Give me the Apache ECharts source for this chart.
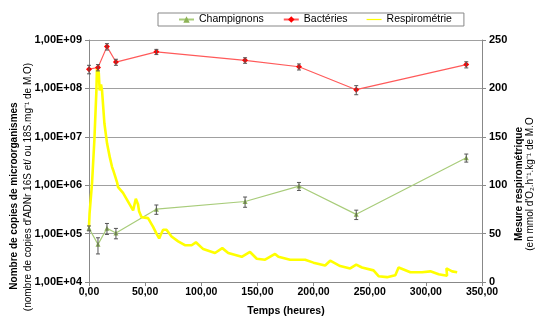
<!DOCTYPE html>
<html lang="fr">
<head>
    <meta charset="UTF-8">
    <title>Suivi microbien et respirométrie</title>
    <style>
        html, body { margin: 0; padding: 0; background: #fff; }
        #main { width: 538px; height: 324px; }
    </style>
    <script src="https://cdn.jsdelivr.net/npm/echarts@6/dist/echarts.min.js"></script>
</head>
<body>
<div id="main"></div>
<script type="text/javascript">
    // temps de prélèvement (heures)
    var sampleHours = [0, 8, 16, 24, 60, 139, 187, 238, 336];
    // copies / mg M.O
    var bacteries = [2.5e8, 2.7e8, 7.3e8, 3.5e8, 5.7e8, 3.8e8, 2.8e8, 9.4e7, 3.1e8];
    var bacteriesSd = [5e7, 4e7, 1.1e8, 5e7, 7e7, 5e7, 4e7, 2e7, 4.5e7];
    var champignons = [1.29e5, 6.0e4, 1.29e5, 1.03e5, 3.2e5, 4.6e5, 9.6e5, 2.5e5, 3.7e6];
    var champignonsSd = [1.5e4, 2.2e4, 3.3e4, 2.5e4, 7e4, 1.1e5, 1.8e5, 5.5e4, 7e5];

    // respirométrie (mmol O2/h/kg M.O)
    var respiroHours = [0, 0.5, 2.7, 4.8, 6.6, 7.1, 8.7, 9.5, 10.7, 11.6, 13.7, 16.1, 18.5, 20.5, 21.4,
        25, 25.9, 30.3, 34.8, 39.3, 41.7, 43.7, 44.6, 46.8, 52.6, 57.1, 60.1, 62.5, 64, 66, 69, 73.5,
        79.4, 85.4, 91.4, 95.2, 101.7, 112.2, 118.7, 124, 136, 143.4, 149.4, 156.8, 165.7, 168.7,
        179.1, 192.5, 199.9, 210.3, 214.8, 223.7, 232.6, 238, 243.1, 253.4, 257.9, 265.4, 272.8,
        275.7, 286.2, 296.6, 304, 311.4, 318.9, 318.3, 323.4, 327.9];
    var respiroValues = [57, 71, 102, 147, 198, 222, 216, 198, 204, 198, 164, 143, 129, 119, 116,
        103, 98, 92, 83, 74, 86, 80, 73, 67, 66, 57, 50, 45, 49, 54, 54, 47,
        42, 38, 38, 41, 34, 30, 35, 30, 26, 31, 24, 23, 29, 26,
        23, 23, 20, 17, 22, 16.5, 14, 18, 15, 12, 6, 5, 7,
        15, 10, 10, 11, 8, 6.5, 14, 11, 10];

    var logTicks = ['1,00E+04', '1,00E+05', '1,00E+06', '1,00E+07', '1,00E+08', '1,00E+09'];

    var FONT = "'Liberation Sans', Arial, sans-serif";

    function pairs(xs, ys) {
        var out = [];
        for (var i = 0; i < xs.length; i++) out.push([xs[i], ys[i]]);
        return out;
    }
    function errData(xs, ys, sd) {
        var out = [];
        for (var i = 0; i < xs.length; i++) out.push([xs[i], ys[i] - sd[i], ys[i] + sd[i]]);
        return out;
    }
    function renderErr(params, api) {
        var x = api.value(0);
        var top = api.coord([x, api.value(2)]);
        var bot = api.coord([x, api.value(1)]);
        var st = { stroke: '#555', lineWidth: 1 };
        return {
            type: 'group',
            children: [
                { type: 'line', shape: { x1: top[0], y1: top[1], x2: bot[0], y2: bot[1] }, style: st },
                { type: 'line', shape: { x1: top[0] - 2, y1: top[1], x2: top[0] + 2, y2: top[1] }, style: st },
                { type: 'line', shape: { x1: bot[0] - 2, y1: bot[1], x2: bot[0] + 2, y2: bot[1] }, style: st }
            ]
        };
    }
    function fmtNum(v) {
        return v.toFixed(2).replace('.', ',');
    }

    var myChart = echarts.init(document.getElementById('main'));

    var option = {
        animation: false,
        textStyle: { fontFamily: FONT },
        grid: { left: 89, right: 56, top: 40, bottom: 42 },
        legend: {
            data: ['Champignons', 'Bactéries',
                { name: 'Respirométrie', icon: 'path://M0,0M15,8M0,3.4L15,3.4L15,4.6L0,4.6Z' }],
            left: 158,
            top: 13,
            padding: [1, 12, 1, 20],
            itemGap: 19,
            itemWidth: 15,
            itemHeight: 8,
            borderColor: '#888',
            borderWidth: 1,
            textStyle: { fontFamily: FONT, fontSize: 10.5, color: '#000' }
        },
        xAxis: {
            type: 'value',
            min: 0, max: 350, interval: 50,
            axisLine: { lineStyle: { color: '#888' } },
            axisTick: { length: 4, lineStyle: { color: '#888' } },
            splitLine: { show: false },
            axisLabel: { color: '#000', fontWeight: 'bold', fontSize: 10.5, margin: 5, formatter: fmtNum }
        },
        yAxis: [{
            type: 'log',
            logBase: 10,
            min: 1e4, max: 1e9,
            axisLine: { show: true, lineStyle: { color: '#888' } },
            axisTick: { show: true, length: 4, lineStyle: { color: '#888' } },
            splitLine: { show: true, lineStyle: { color: '#a0a0a0', width: 1.2 } },
            minorTick: { show: false },
            axisLabel: {
                color: '#000', fontWeight: 'bold', fontSize: 11, margin: 7,
                formatter: function (v) { return logTicks[Math.round(Math.log10(v)) - 4]; }
            }
        }, {
            type: 'value',
            min: 0, max: 250, interval: 50,
            position: 'right',
            axisLine: { show: true, lineStyle: { color: '#888' } },
            axisTick: { show: true, length: 4, lineStyle: { color: '#888' } },
            splitLine: { show: false },
            axisLabel: { color: '#000', fontWeight: 'bold', fontSize: 11, margin: 7 }
        }],
        graphic: [{
            type: 'text', x: 14, y: 196, rotation: Math.PI / 2,
            style: { text: 'Nombre de copies de microorganismes', font: 'bold 10px ' + FONT,
                fill: '#000', align: 'center', verticalAlign: 'middle' }
        }, {
            type: 'text', x: 28, y: 187, rotation: Math.PI / 2,
            style: { text: "(nombre de copies d'ADNr 16S et/ ou 18S.mg\u207B\u00B9 de M.O)", font: '10px ' + FONT,
                fill: '#000', align: 'center', verticalAlign: 'middle' }
        }, {
            type: 'text', x: 519, y: 184, rotation: Math.PI / 2,
            style: { text: 'Mesure respirométrique', font: 'bold 10px ' + FONT,
                fill: '#000', align: 'center', verticalAlign: 'middle' }
        }, {
            type: 'text', x: 530, y: 184, rotation: Math.PI / 2,
            style: { text: "(en mmol d'O\u2082.h\u207B\u00B9.kg\u207B\u00B9 de M.O", font: '10px ' + FONT,
                fill: '#000', align: 'center', verticalAlign: 'middle' }
        }, {
            type: 'text', x: 286, y: 311,
            style: { text: 'Temps (heures)', font: 'bold 10.5px ' + FONT,
                fill: '#000', align: 'center', verticalAlign: 'middle' }
        }],
        series: [{
            name: 'Champignons',
            type: 'line',
            yAxisIndex: 0,
            data: pairs(sampleHours, champignons),
            symbol: 'triangle',
            symbolSize: 5,
            itemStyle: { color: '#8db356' },
            lineStyle: { color: '#a8cc7a', width: 1.2 },
            z: 3
        }, {
            name: 'Respirométrie',
            type: 'line',
            yAxisIndex: 1,
            data: pairs(respiroHours, respiroValues),
            symbol: 'none',
            itemStyle: { color: '#ffff00' },
            lineStyle: { color: '#ffff00', width: 2.6 },
            z: 4
        }, {
            name: 'Bactéries',
            type: 'line',
            yAxisIndex: 0,
            data: pairs(sampleHours, bacteries),
            symbol: 'diamond',
            symbolSize: 6,
            itemStyle: { color: '#ff0000' },
            lineStyle: { color: '#ff5a5a', width: 1.2 },
            z: 5
        }, {
            type: 'custom',
            yAxisIndex: 0,
            renderItem: renderErr,
            encode: { x: 0, y: [1, 2] },
            data: errData(sampleHours, bacteries, bacteriesSd),
            z: 6
        }, {
            type: 'custom',
            yAxisIndex: 0,
            renderItem: renderErr,
            encode: { x: 0, y: [1, 2] },
            data: errData(sampleHours, champignons, champignonsSd),
            z: 6
        }]
    };

    myChart.setOption(option);
</script>
</body>
</html>
